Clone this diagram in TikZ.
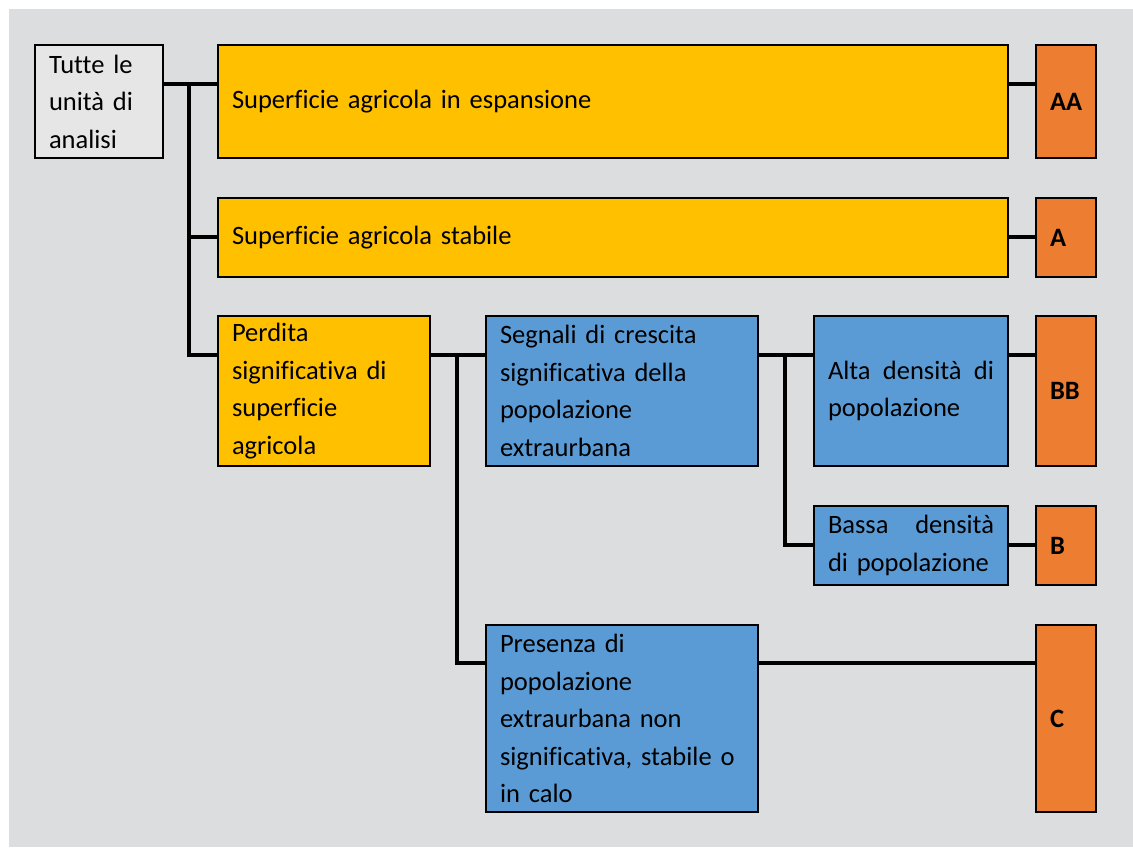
\documentclass[tikz,border=0pt]{standalone}
\usepackage{fontspec}
\setmainfont{Carlito}[Ligatures=NoCommon]
\definecolor{bggray}{RGB}{220,221,223}
\definecolor{boxgray}{RGB}{231,230,230}
\definecolor{ayellow}{RGB}{255,192,0}
\definecolor{ablue}{RGB}{91,155,213}
\definecolor{aorange}{RGB}{237,125,49}
\begin{document}
\begin{tikzpicture}[x=1pt,y=-1pt,
  box/.style={draw=black, line width=2pt, anchor=north west, inner xsep=14pt, inner ysep=0pt,
    align=left, font=\fontsize{26.5}{37.5}\selectfont},
  gbox/.style={box, fill=boxgray},
  ybox/.style={box, fill=ayellow},
  bbox/.style={box, fill=ablue},
  obox/.style={box, fill=aorange, font=\fontsize{26.5}{37.5}\selectfont\bfseries,
    minimum width=60pt, text width=32pt},
  conn/.style={draw=black, line width=3.5pt}]
\useasboundingbox (0,0) rectangle (1133,847);
\fill[bggray] (9,9) rectangle (1133,847);

\node[gbox, minimum width=128pt, text width=100pt, minimum height=113pt] (tutte) at (34,44) {Tutte le\\unità di\\analisi};
\node[ybox, minimum width=790pt, text width=762pt, minimum height=113pt] (aa) at (217,44) {Superficie agricola in espansione};
\node[obox, minimum height=113pt] (aaR) at (1035,44) {AA};
\node[ybox, minimum width=790pt, text width=762pt, minimum height=79pt] (a) at (217,197) {Superficie agricola stabile};
\node[obox, minimum height=79pt] (aR) at (1035,197) {A};
\node[ybox, minimum width=212pt, text width=184pt, minimum height=150pt] (perdita) at (217,315) {Perdita\\significativa di\\superficie\\agricola};
\node[bbox, minimum width=272pt, text width=244pt, minimum height=150pt] (segnali) at (485,315) {Segnali di crescita\\significativa della\\popolazione\\extraurbana};
\node[bbox, minimum width=194pt, text width=166pt, minimum height=150pt] (alta) at (813,315) {\hbox to 166pt{Alta\hfill densità\hfill di}\\popolazione};
\node[obox, minimum height=150pt] (bbR) at (1035,315) {BB};
\node[bbox, minimum width=194pt, text width=166pt, minimum height=79pt] (bassa) at (813,505) {\hbox to 166pt{Bassa\hfill densità}\\di popolazione};
\node[obox, minimum height=79pt] (bR) at (1035,505) {B};
\node[bbox, minimum width=272pt, text width=244pt, minimum height=187pt] (presenza) at (485,624) {Presenza di\\popolazione\\extraurbana non\\significativa, stabile o\\in calo};
\node[obox, minimum height=187pt] (cR) at (1035,624) {C};

\coordinate (j1) at (189,84);
\coordinate (j2) at (189,237);
\coordinate (j3) at (189,355);
\coordinate (j4) at (457,355);
\coordinate (j5) at (457,663);
\coordinate (j6) at (785,355);
\coordinate (j7) at (785,545);

\draw[conn] (tutte.east |- j1) -- (aa.west |- j1);
\draw[conn] (j1) -- (j3);
\draw[conn] (j2) -- (a.west |- j2);
\draw[conn] ([xshift=-1.75pt]j3) -- (perdita.west |- j3);
\draw[conn] (perdita.east |- j4) -- (segnali.west |- j4);
\draw[conn] (j4) -- (j5);
\draw[conn] ([xshift=-1.75pt]j5) -- (presenza.west |- j5);
\draw[conn] (segnali.east |- j6) -- (alta.west |- j6);
\draw[conn] (j6) -- (j7);
\draw[conn] ([xshift=-1.75pt]j7) -- (bassa.west |- j7);
\draw[conn] (aa.east |- j1) -- (aaR.west |- j1);
\draw[conn] (a.east |- j2) -- (aR.west |- j2);
\draw[conn] (alta.east |- j6) -- (bbR.west |- j6);
\draw[conn] (bassa.east |- j7) -- (bR.west |- j7);
\draw[conn] (presenza.east |- j5) -- (cR.west |- j5);
\end{tikzpicture}
\end{document}
